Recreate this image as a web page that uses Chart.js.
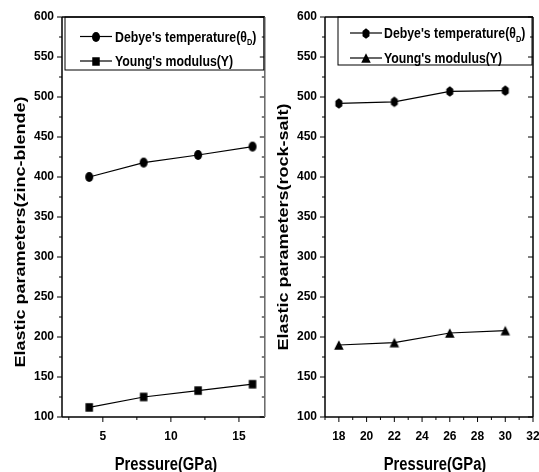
<!DOCTYPE html>
<html>
<head>
<meta charset="utf-8">
<script src="https://cdn.jsdelivr.net/npm/chart.js@4.4.1/dist/chart.umd.min.js"></script>
<style>
  body { margin: 0; background: #fff; }
  canvas { position: absolute; top: 0; }
  #zbChart { left: 0; }
  #rsChart { left: 270px; }
</style>
</head>
<body>
<canvas id="zbChart" width="270" height="472"></canvas>
<canvas id="rsChart" width="269" height="472"></canvas>
<script>
// Zinc-blende phase
const zbPressure = [4, 8, 12, 16];
const zbDebye = [400, 418, 427.5, 438];
const zbYoung = [112, 125, 133, 141];

// Rock-salt phase
const rsPressure = [18, 22, 26, 30];
const rsDebye = [492, 494, 507, 508];
const rsYoung = [190, 193, 205, 208];

const seriesLabels = ["Debye's temperature(θ_D)", "Young's modulus(Y)"];
const yTickLabels = ['100', '150', '200', '250', '300', '350', '400', '450', '500', '550', '600'];
const zbXTickLabels = ['5', '10', '15'];
const rsXTickLabels = ['18', '20', '22', '24', '26', '28', '30', '32'];

const FONT = "'Liberation Sans', Arial, sans-serif";

// filled marker bitmaps, used as pointStyle
function marker(shape, w, h) {
    const c = document.createElement('canvas');
    c.width = Math.ceil(w) + 2;
    c.height = Math.ceil(h) + 2;
    const g = c.getContext('2d');
    const cx = c.width / 2, cy = c.height / 2, rx = w / 2, ry = h / 2;
    g.fillStyle = '#000';
    g.beginPath();
    if (shape === 'circle') {
        g.ellipse(cx, cy, rx, ry, 0, 0, Math.PI * 2);
    } else if (shape === 'square') {
        g.rect(cx - rx, cy - ry, w, h);
    } else if (shape === 'hexagon') {
        for (let i = 0; i < 6; i++) {
            const a = -Math.PI / 2 + i * Math.PI / 3;
            const px = cx + rx * Math.cos(a), py = cy + ry * Math.sin(a);
            if (i === 0) g.moveTo(px, py); else g.lineTo(px, py);
        }
    } else if (shape === 'triangle') {
        g.moveTo(cx, cy - ry);
        g.lineTo(cx + rx, cy + ry);
        g.lineTo(cx - rx, cy + ry);
    }
    g.closePath();
    g.fill();
    return c;
}

// text with "_X" subscripts, squeezed a little horizontally
function drawRich(ctx, text, x, y, size, squeeze) {
    ctx.save();
    ctx.translate(x, y);
    ctx.scale(squeeze, 1);
    ctx.textAlign = 'left';
    ctx.textBaseline = 'alphabetic';
    ctx.fillStyle = '#000';
    const base = size * 0.36;
    let cx = 0;
    text.split(/(_\w)/).forEach(function (part) {
        if (!part) return;
        if (part[0] === '_') {
            ctx.font = 'bold ' + Math.round(size * 0.62) + 'px ' + FONT;
            ctx.fillText(part.slice(1), cx, base + size * 0.22);
            cx += ctx.measureText(part.slice(1)).width;
        } else {
            ctx.font = 'bold ' + size + 'px ' + FONT;
            ctx.fillText(part, cx, base);
            cx += ctx.measureText(part).width;
        }
    });
    ctx.restore();
}

// axis frame with major/minor ticks (out on left/bottom, in on right)
const framePlugin = {
    id: 'frame',
    afterDraw(chart, args, opts) {
        const { ctx, chartArea: a, scales: { x, y } } = chart;
        ctx.save();
        ctx.strokeStyle = '#000';
        ctx.lineWidth = 1;
        const seg = function (x1, y1, x2, y2) {
            ctx.beginPath();
            ctx.moveTo(x1, y1);
            ctx.lineTo(x2, y2);
            ctx.stroke();
        };
        y.ticks.forEach(function (t) {
            const py = y.getPixelForValue(t.value);
            const len = t.label ? 5 : 3;
            seg(a.left - len, py, a.left, py);
            seg(a.right, py, a.right - len, py);
        });
        x.ticks.forEach(function (t) {
            const px = x.getPixelForValue(t.value);
            const len = t.label ? 5 : 3;
            seg(px, a.bottom, px, a.bottom + len);
        });
        ctx.lineWidth = 1.5;
        seg(a.left, a.top, a.left, a.bottom);
        seg(a.left, a.bottom, a.right, a.bottom);
        seg(a.left, a.top, a.right, a.top);
        ctx.strokeStyle = opts.rightColor || '#000';
        seg(a.right, a.top, a.right, a.bottom);
        ctx.restore();
    }
};

const titlesPlugin = {
    id: 'titles',
    afterDraw(chart, args, o) {
        const ctx = chart.ctx;
        ctx.save();
        ctx.fillStyle = '#000';
        ctx.font = 'bold 18px ' + FONT;
        ctx.textAlign = 'center';
        ctx.textBaseline = 'middle';
        ctx.save();
        ctx.translate(o.x.cx, o.x.cy);
        ctx.scale(0.82, 1);
        ctx.fillText(o.x.text, 0, 0);
        ctx.restore();
        ctx.save();
        ctx.translate(o.y.cx, o.y.cy);
        ctx.rotate(-Math.PI / 2);
        ctx.scale(1, 0.85);
        ctx.fillText(o.y.text, 0, 0);
        ctx.restore();
        ctx.restore();
    }
};

const legendPlugin = {
    id: 'boxLegend',
    afterDraw(chart, args, o) {
        const { ctx, chartArea: a } = chart;
        const L = a.left + o.inset, R = a.right - 1, T = a.top, B = a.top + o.height;
        ctx.save();
        ctx.strokeStyle = '#000';
        ctx.lineWidth = 1;
        ctx.strokeRect(L, T, R - L, B - T);
        chart.data.datasets.forEach(function (ds, i) {
            const ry = T + o.rows[i];
            const s0 = L + o.symbolStart, s1 = s0 + 32;
            ctx.lineWidth = 1.2;
            ctx.beginPath();
            ctx.moveTo(s0, ry);
            ctx.lineTo(s1, ry);
            ctx.stroke();
            const img = ds.pointStyle;
            ctx.drawImage(img, Math.round((s0 + s1) / 2 - img.width / 2), Math.round(ry - img.height / 2));
            drawRich(ctx, ds.label, s1 + o.gap, ry, 15, 0.82);
        });
        ctx.restore();
    }
};

function makeChart(id, c) {
    const xy = (vals) => c.xs.map((x, i) => ({ x: x, y: vals[i] }));
    const tickFont = { family: FONT, size: 12, weight: 'bold' };
    return new Chart(document.getElementById(id), {
        type: 'line',
        data: {
            datasets: [
                {
                    label: seriesLabels[0],
                    data: xy(c.debye),
                    borderColor: '#000',
                    borderWidth: 1.2,
                    pointStyle: c.markers[0],
                    pointRadius: 4
                },
                {
                    label: seriesLabels[1],
                    data: xy(c.young),
                    borderColor: '#000',
                    borderWidth: 1.2,
                    pointStyle: c.markers[1],
                    pointRadius: 4
                }
            ]
        },
        options: {
            responsive: false,
            animation: false,
            devicePixelRatio: 1,
            layout: { padding: { top: 17, left: 0, right: c.padRight, bottom: 0 } },
            scales: {
                x: {
                    type: 'linear',
                    min: c.xMin,
                    max: c.xMax,
                    afterFit(s) { s.height = 55; s.paddingLeft = 0; s.paddingRight = 0; },
                    grid: { display: false, drawTicks: false },
                    border: { display: false },
                    ticks: {
                        stepSize: c.xStep,
                        includeBounds: false,
                        autoSkip: false,
                        maxRotation: 0,
                        minRotation: 0,
                        padding: 12,
                        color: '#000',
                        font: tickFont,
                        callback: (v) => c.xLabels.includes(String(v)) ? String(v) : ''
                    }
                },
                y: {
                    min: 100,
                    max: 600,
                    afterFit(s) { s.width = c.yAxisWidth; s.paddingTop = 0; s.paddingBottom = 0; },
                    grid: { display: false, drawTicks: false },
                    border: { display: false },
                    ticks: {
                        stepSize: 25,
                        autoSkip: false,
                        padding: 8,
                        color: '#000',
                        font: tickFont,
                        callback: (v) => yTickLabels.includes(String(v)) ? String(v) : ''
                    }
                }
            },
            plugins: {
                legend: { display: false },
                tooltip: { enabled: false },
                frame: { rightColor: c.rightColor },
                titles: c.titles,
                boxLegend: c.legend
            }
        },
        plugins: [framePlugin, titlesPlugin, legendPlugin]
    });
}

makeChart('zbChart', {
    xs: zbPressure,
    debye: zbDebye,
    young: zbYoung,
    markers: [marker('circle', 8, 10), marker('square', 7.5, 8.5)],
    xMin: 2, xMax: 16.9, xStep: 2.5, xLabels: zbXTickLabels,
    yAxisWidth: 62, padRight: 1, rightColor: '#666',
    titles: {
        x: { text: 'Pressure(GPa)', cx: 166, cy: 465 },
        y: { text: 'Elastic parameters(zinc-blende)', cx: 21, cy: 232 }
    },
    legend: { inset: 3, height: 53, rows: [19.5, 44], symbolStart: 15, gap: 3 }
});

makeChart('rsChart', {
    xs: rsPressure,
    debye: rsDebye,
    young: rsYoung,
    markers: [marker('hexagon', 8, 10.5), marker('triangle', 9.5, 9.5)],
    xMin: 17, xMax: 32, xStep: 1, xLabels: rsXTickLabels,
    yAxisWidth: 55, padRight: 6, rightColor: '#000',
    titles: {
        x: { text: 'Pressure(GPa)', cx: 165, cy: 465 },
        y: { text: 'Elastic parameters(rock-salt)', cx: 14, cy: 227 }
    },
    legend: { inset: 13, height: 48, rows: [16, 41], symbolStart: 12, gap: 2 }
});
</script>
</body>
</html>
